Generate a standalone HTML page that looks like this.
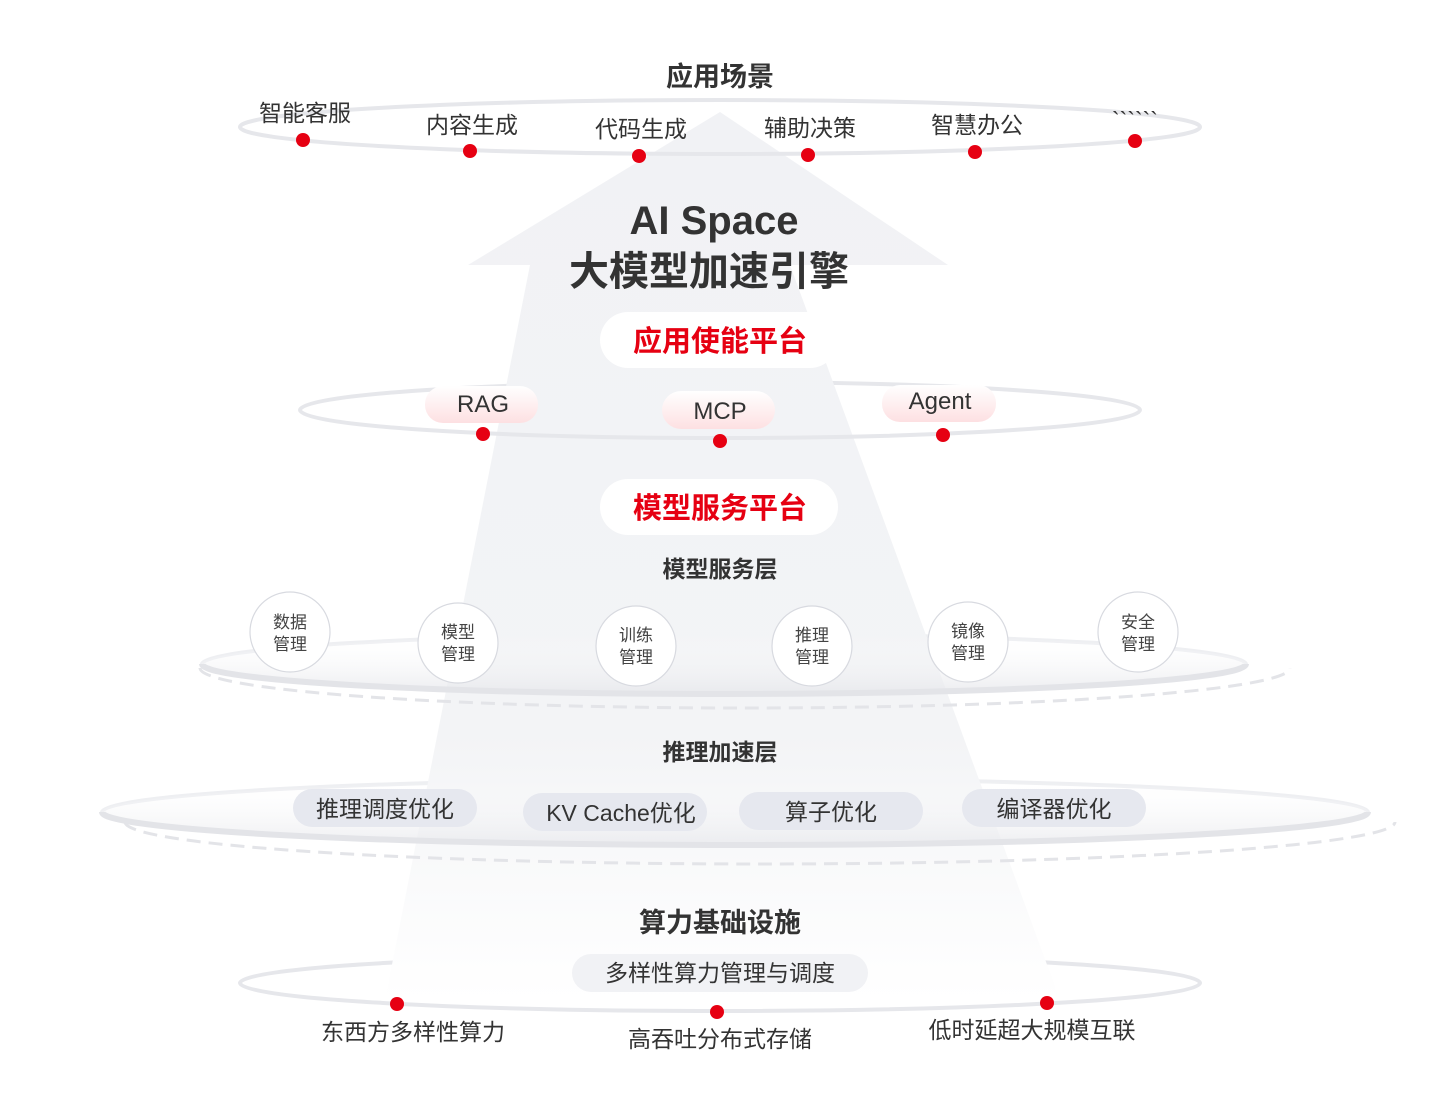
<!DOCTYPE html>
<html><head><meta charset="utf-8"><style>
html,body{margin:0;padding:0;background:#fff;}
svg{display:block;}
text{font-family:"Liberation Sans","Noto Sans CJK SC",sans-serif;}
</style></head><body>
<svg width="1440" height="1118" viewBox="0 0 1440 1118" xmlns="http://www.w3.org/2000/svg">
<defs>
<linearGradient id="arr" x1="0" y1="0" x2="0" y2="1">
<stop offset="0" stop-color="#f1f2f5"/><stop offset="0.7" stop-color="#f3f4f6"/><stop offset="1" stop-color="#ffffff"/>
</linearGradient>
<linearGradient id="pink" x1="0" y1="0" x2="0" y2="1">
<stop offset="0" stop-color="#ffffff"/><stop offset="1" stop-color="#fde0e2"/>
</linearGradient>
<linearGradient id="disk" x1="0" y1="0" x2="0" y2="1">
<stop offset="0" stop-color="#ffffff" stop-opacity="0"/><stop offset="1" stop-color="#e6e7eb"/>
</linearGradient>
</defs>
<!-- back arcs -->
<path d="M240 127 A480 27 0 0 1 1200 127" fill="none" stroke="#e6e7eb" stroke-width="4"/>
<path d="M300 410 A420 28 0 0 1 1140 410" fill="none" stroke="#e6e7eb" stroke-width="4"/>
<path d="M202 664 A522 30 0 0 1 1246 664" fill="none" stroke="#eeeff2" stroke-width="4"/>
<path d="M102 812 A633 33 0 0 1 1368 812" fill="none" stroke="#eeeff2" stroke-width="4"/>
<path d="M240 983 A480 28 0 0 1 1200 983" fill="none" stroke="#e6e7eb" stroke-width="4"/>

<!-- big arrow -->
<path d="M720 112 L948 265 L790 265 L1060 1000 L385 1000 L530 265 L468 265 Z" fill="url(#arr)"/>

<!-- front arcs -->
<path d="M240 127 A480 27 0 0 0 1200 127" fill="none" stroke="#e6e7eb" stroke-width="4"/>
<path d="M300 410 A420 28 0 0 0 1140 410" fill="none" stroke="#e6e7eb" stroke-width="4"/>
<path d="M240 983 A480 28 0 0 0 1200 983" fill="none" stroke="#e6e7eb" stroke-width="4"/>

<g fill="#e60012">
<circle cx="303" cy="140" r="7"/><circle cx="470" cy="151" r="7"/><circle cx="639" cy="156" r="7"/>
<circle cx="808" cy="155" r="7"/><circle cx="975" cy="152" r="7"/><circle cx="1135" cy="141" r="7"/>
</g>
<text x="720" y="86" font-size="27" font-weight="bold" fill="#333" text-anchor="middle">应用场景</text>
<g font-size="23" fill="#333" text-anchor="middle">
<text x="305" y="121">智能客服</text><text x="472" y="133">内容生成</text><text x="641" y="137">代码生成</text>
<text x="810" y="136">辅助决策</text><text x="977" y="133">智慧办公</text><text x="1135" y="128">&#96;&#96;&#96;&#96;&#96;&#96;</text>
</g>

<text x="714" y="234" font-size="40" font-weight="bold" fill="#333" text-anchor="middle">AI Space</text>
<text x="709" y="285" font-size="40" font-weight="bold" fill="#333" text-anchor="middle">大模型加速引擎</text>

<rect x="600" y="312" width="238" height="56" rx="28" fill="#fff"/>
<text x="720" y="351" font-size="29" font-weight="bold" fill="#e60012" text-anchor="middle">应用使能平台</text>

<rect x="425" y="386" width="113" height="37" rx="18" fill="url(#pink)"/>
<rect x="662" y="391" width="113" height="38" rx="19" fill="url(#pink)"/>
<rect x="882" y="385" width="114" height="37" rx="18" fill="url(#pink)"/>
<g font-size="24" fill="#333" text-anchor="middle">
<text x="483" y="412">RAG</text><text x="720" y="419">MCP</text><text x="940" y="409">Agent</text>
</g>
<g fill="#e60012"><circle cx="483" cy="434" r="7"/><circle cx="720" cy="441" r="7"/><circle cx="943" cy="435" r="7"/></g>

<rect x="600" y="479" width="238" height="56" rx="28" fill="#fff"/>
<text x="720" y="518" font-size="29" font-weight="bold" fill="#e60012" text-anchor="middle">模型服务平台</text>
<text x="720" y="577" font-size="23" font-weight="bold" fill="#333" text-anchor="middle">模型服务层</text>

<!-- ring 3 disk -->
<path d="M200 668 A545 40 0 0 0 1290 668" fill="none" stroke="#e3e4e8" stroke-width="3" stroke-dasharray="14 8"/>
<ellipse cx="724" cy="664" rx="522" ry="30" fill="url(#disk)" opacity="0.8"/>
<path d="M202 664 A522 30 0 0 0 1246 664" fill="none" stroke="#e3e4e8" stroke-width="6"/>
<g fill="#fff" stroke="#d8dae0" stroke-width="1.2">
<circle cx="290" cy="632" r="40"/><circle cx="458" cy="643" r="40"/><circle cx="636" cy="646" r="40"/>
<circle cx="812" cy="646" r="40"/><circle cx="968" cy="642" r="40"/><circle cx="1138" cy="632" r="40"/>
</g>
<g font-size="17" fill="#444" text-anchor="middle">
<text x="290" y="628">数据</text><text x="290" y="650">管理</text>
<text x="458" y="638">模型</text><text x="458" y="660">管理</text>
<text x="636" y="641">训练</text><text x="636" y="663">管理</text>
<text x="812" y="641">推理</text><text x="812" y="663">管理</text>
<text x="968" y="637">镜像</text><text x="968" y="659">管理</text>
<text x="1138" y="628">安全</text><text x="1138" y="650">管理</text>
</g>

<text x="720" y="760" font-size="23" font-weight="bold" fill="#333" text-anchor="middle">推理加速层</text>

<!-- ring 4 -->
<path d="M125 822 A635 42 0 0 0 1395 822" fill="none" stroke="#e3e4e8" stroke-width="3" stroke-dasharray="14 8"/>
<ellipse cx="735" cy="812" rx="633" ry="33" fill="url(#disk)" opacity="0.7"/>
<path d="M102 812 A633 33 0 0 0 1368 812" fill="none" stroke="#e3e4e8" stroke-width="6"/>
<g fill="#e6e8ef">
<rect x="293" y="789" width="184" height="38" rx="19"/><rect x="523" y="793" width="184" height="38" rx="19"/>
<rect x="739" y="792" width="184" height="38" rx="19"/><rect x="962" y="789" width="184" height="38" rx="19"/>
</g>
<g font-size="23" fill="#333" text-anchor="middle">
<text x="385" y="817">推理调度优化</text><text x="621" y="821">KV Cache优化</text>
<text x="831" y="820">算子优化</text><text x="1054" y="817">编译器优化</text>
</g>

<text x="720" y="932" font-size="27" font-weight="bold" fill="#333" text-anchor="middle">算力基础设施</text>

<rect x="572" y="954" width="296" height="38" rx="19" fill="#f1f2f5"/>
<text x="720" y="981" font-size="23" fill="#333" text-anchor="middle">多样性算力管理与调度</text>
<g fill="#e60012"><circle cx="397" cy="1004" r="7"/><circle cx="717" cy="1012" r="7"/><circle cx="1047" cy="1003" r="7"/></g>
<g font-size="23" fill="#333" text-anchor="middle">
<text x="413" y="1040">东西方多样性算力</text><text x="720" y="1047">高吞吐分布式存储</text><text x="1032" y="1038">低时延超大规模互联</text>
</g>
</svg>
</body></html>
